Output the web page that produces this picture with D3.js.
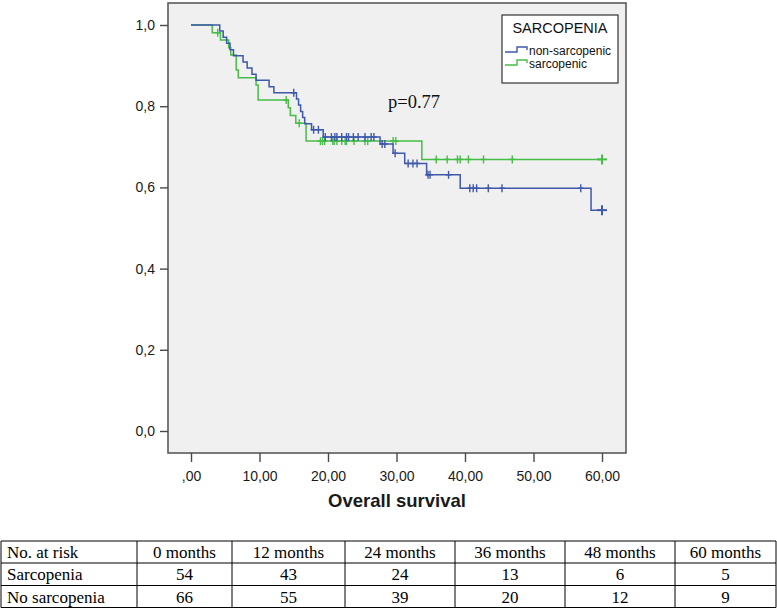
<!DOCTYPE html>
<html>
<head>
<meta charset="utf-8">
<script src="https://cdn.jsdelivr.net/npm/d3@7"></script>
<style>
  html, body { margin: 0; padding: 0; background: #fff; }
  svg { display: block; }
</style>
</head>
<body>
<svg id="chart" width="777" height="609"></svg>
<script>
// ---------------- data ----------------
const seriesNames = ["non-sarcopenic", "sarcopenic"];

// non-sarcopenic (blue): event times and survival after each event
const nonSarcTimes = [4.2, 4.7, 5.2, 5.7, 6.2, 7.6, 8.2, 8.9, 9.5, 11.4, 12.1, 15.4, 15.7, 16.0, 16.3, 16.6, 17.6, 19.3, 27.6, 29.5, 31.2, 34.4, 39.3, 58.4];
const nonSarcSurv  = [0.985, 0.970, 0.955, 0.939, 0.924, 0.909, 0.894, 0.879, 0.864, 0.848, 0.833, 0.818, 0.803, 0.787, 0.772, 0.757, 0.742, 0.724, 0.707, 0.684, 0.659, 0.631, 0.598, 0.544];
const nonSarcCensor = [15.0, 17.9, 18.6, 19.6, 20.5, 21.0, 21.3, 22.0, 22.7, 23.0, 23.7, 24.4, 25.4, 26.3, 26.7, 27.9, 28.3, 29.8, 31.7, 32.4, 33.0, 34.6, 34.9, 37.6, 40.7, 41.2, 41.7, 43.4, 45.4, 56.9, 60.0];

// sarcopenic (green)
const sarcTimes = [3.1, 4.3, 5.5, 5.8, 6.6, 6.9, 9.5, 9.8, 14.2, 14.5, 15.3, 16.8, 33.7];
const sarcSurv  = [0.981, 0.963, 0.944, 0.926, 0.889, 0.870, 0.852, 0.815, 0.796, 0.777, 0.758, 0.714, 0.669];
const sarcCensor = [3.9, 13.9, 15.8, 18.9, 19.2, 19.5, 20.7, 20.9, 21.3, 22.0, 22.5, 22.7, 23.8, 25.4, 25.8, 29.5, 29.9, 35.8, 37.4, 38.9, 39.3, 40.5, 42.7, 46.9, 60.0];

const xTicks = [0, 10, 20, 30, 40, 50, 60];
const yTicks = [0, 0.2, 0.4, 0.6, 0.8, 1.0];

const xTitle = "Overall survival";
const legendTitle = "SARCOPENIA";
const pValueText = "p=0.77";

// risk table
const tableHeader = ["No. at risk", "0 months", "12 months", "24 months", "36 months", "48 months", "60 months"];
const tableRowLabels = ["Sarcopenia", "No sarcopenia"];
const riskSarcopenia = [54, 43, 24, 13, 6, 5];
const riskNoSarcopenia = [66, 55, 39, 20, 12, 9];

// ---------------- drawing ----------------
const svg = d3.select("#chart");
const colors = { "non-sarcopenic": "#3e58ac", "sarcopenic": "#46bd46" };

const frame = { x0: 168, y0: 3, x1: 626, y1: 453 };
const x = d3.scaleLinear().domain([0, 60]).range([191, 602]);
const y = d3.scaleLinear().domain([0, 1]).range([431, 25]);

svg.append("rect")
  .attr("x", frame.x0).attr("y", frame.y0)
  .attr("width", frame.x1 - frame.x0).attr("height", frame.y1 - frame.y0)
  .attr("fill", "#f0f0f0").attr("stroke", "#5a5a5a").attr("stroke-width", 1.6);

// axes
const yAxis = d3.axisLeft(y).tickValues(yTicks).tickSize(8).tickPadding(5)
  .tickFormat(d => d3.format(".1f")(d).replace(".", ","));
const gy = svg.append("g").attr("transform", `translate(${frame.x0},0)`).call(yAxis);
const xAxis = d3.axisBottom(x).tickValues(xTicks).tickSize(9).tickPadding(9)
  .tickFormat(d => d === 0 ? ",00" : d.toFixed(2).replace(".", ","));
const gx = svg.append("g").attr("transform", `translate(0,${frame.y1})`).call(xAxis);
[gx, gy].forEach(g => {
  g.select(".domain").remove();
  g.selectAll(".tick line").attr("stroke", "#4a4a4a").attr("stroke-width", 1.4);
  g.selectAll(".tick text").attr("fill", "#1a1a1a")
    .style("font-family", "'Liberation Sans', Arial, sans-serif").style("font-size", "14px");
});

svg.append("text").attr("x", (frame.x0 + frame.x1) / 2).attr("y", 507)
  .attr("text-anchor", "middle")
  .style("font-family", "'Liberation Sans', Arial, sans-serif").style("font-size", "18.5px")
  .style("font-weight", "bold").attr("fill", "#1a1a1a").text(xTitle);

// curves
function stepFn(times, surv) {
  return t => { let s = 1; for (let i = 0; i < times.length; i++) if (times[i] <= t) s = surv[i]; return s; };
}
const series = [
  { name: "sarcopenic", times: sarcTimes, surv: sarcSurv, censor: sarcCensor },
  { name: "non-sarcopenic", times: nonSarcTimes, surv: nonSarcSurv, censor: nonSarcCensor }
];
const line = d3.line().x(d => x(d[0])).y(d => y(d[1])).curve(d3.curveStepAfter);
series.forEach(s => {
  const endT = d3.max(s.censor.concat(s.times));
  const pts = [[0, 1]].concat(s.times.map((t, i) => [t, s.surv[i]]));
  pts.push([endT, s.surv[s.surv.length - 1]]);
  svg.append("path").datum(pts).attr("d", line)
    .attr("fill", "none").attr("stroke", colors[s.name]).attr("stroke-width", 1.5);
  const S = stepFn(s.times, s.surv);
  const g = svg.append("g").attr("stroke", colors[s.name]).attr("stroke-width", 1.4);
  s.censor.forEach(t => {
    const cx = x(t), cy = y(S(t));
    const big = t === endT;
    const h = big ? 5 : 4;
    g.append("line").attr("x1", cx).attr("x2", cx).attr("y1", cy - h).attr("y2", cy + h)
      .attr("stroke-width", big ? 2 : 1.4);
    g.append("line").attr("x1", cx - (big ? 5 : 3)).attr("x2", cx + (big ? 5 : 3)).attr("y1", cy).attr("y2", cy)
      .attr("stroke-width", big ? 2 : 1.4);
  });
});

// p-value
svg.append("text").attr("x", 388).attr("y", 108)
  .style("font-family", "'Liberation Serif', 'Times New Roman', serif").style("font-size", "18.5px")
  .attr("fill", "#111").text(pValueText);

// legend
const lg = svg.append("g");
lg.append("rect").attr("x", 502).attr("y", 15).attr("width", 116).attr("height", 68)
  .attr("fill", "#fff").attr("stroke", "#333").attr("stroke-width", 1.2);
lg.append("text").attr("x", 560).attr("y", 33).attr("text-anchor", "middle")
  .style("font-family", "'Liberation Sans', Arial, sans-serif").style("font-size", "14.5px")
  .attr("fill", "#111").text(legendTitle);
seriesNames.forEach((n, i) => {
  const by = 51 + i * 13;
  lg.append("path").attr("d", `M505,${by + 1}H517V${by - 4}H527V${by - 1}`)
    .attr("fill", "none").attr("stroke", colors[n]).attr("stroke-width", 1.4);
  lg.append("text").attr("x", 529).attr("y", by + 4)
    .style("font-family", "'Liberation Sans', Arial, sans-serif").style("font-size", "12px")
    .attr("fill", "#111").text(n);
});

// risk table
const colX = [1, 137, 232, 345, 455, 565, 675, 776];
const rowY = [541, 563, 585.5, 607.5];
const tg = svg.append("g");
rowY.forEach(ry => tg.append("line").attr("x1", colX[0]).attr("x2", colX[colX.length - 1])
  .attr("y1", ry).attr("y2", ry).attr("stroke", "#000").attr("stroke-width", 1));
colX.forEach(cx => tg.append("line").attr("x1", cx).attr("x2", cx)
  .attr("y1", rowY[0]).attr("y2", rowY[rowY.length - 1]).attr("stroke", "#000").attr("stroke-width", 1));
const rows = [tableHeader, [tableRowLabels[0]].concat(riskSarcopenia), [tableRowLabels[1]].concat(riskNoSarcopenia)];
rows.forEach((r, ri) => {
  const base = (rowY[ri] + rowY[ri + 1]) / 2 + 6;
  r.forEach((v, ci) => {
    tg.append("text")
      .attr("x", ci === 0 ? colX[0] + 6 : (colX[ci] + colX[ci + 1]) / 2)
      .attr("y", base)
      .attr("text-anchor", ci === 0 ? "start" : "middle")
      .style("font-family", "'Liberation Serif', 'Times New Roman', serif").style("font-size", "17px")
      .attr("fill", "#000").text(v);
  });
});
</script>
</body>
</html>
